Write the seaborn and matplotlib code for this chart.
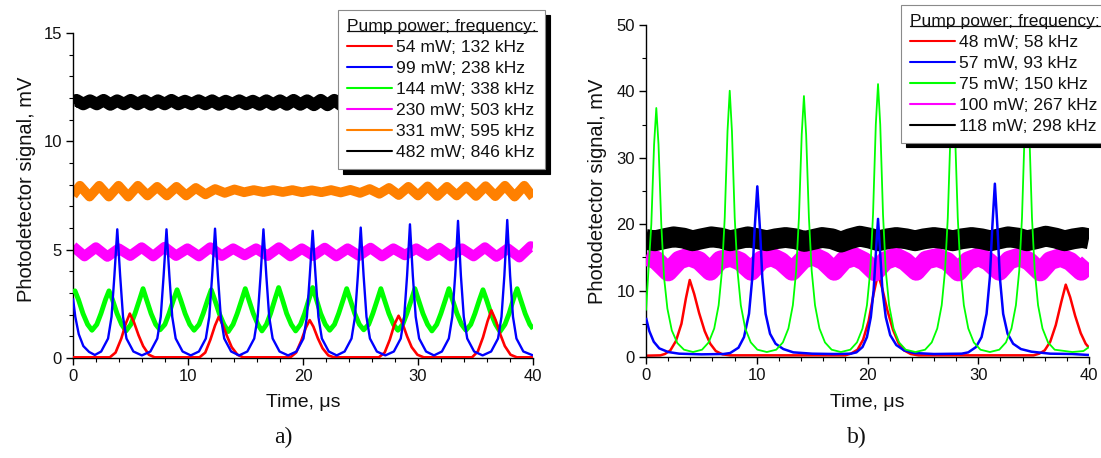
import matplotlib
matplotlib.use("Agg")
import matplotlib.pyplot as plt
import pandas as pd
import seaborn as sns
from matplotlib import font_manager as fm
from matplotlib.lines import Line2D
from matplotlib.ticker import MultipleLocator

# ---------------- data ----------------
# Panel a) : (time in us, signal in mV)
A_LABELS = ["54 mW; 132 kHz", "99 mW; 238 kHz", "144 mW; 338 kHz",
            "230 mW; 503 kHz", "331 mW; 595 kHz", "482 mW; 846 kHz"]
A_COLORS = ["#ff0000", "#0000ff", "#00ff00", "#ff00ff", "#ff8000", "#000000"]

A_RED = [(0, 0.03), (3.2, 0.03), (3.7, 0.25), (4.2, 0.9), (4.6, 1.6), (4.94, 2.05), (5.3, 1.65),
         (5.7, 1.05), (6.1, 0.55), (6.6, 0.15), (7.1, 0.03),
         (11.0, 0.03), (11.5, 0.25), (11.95, 0.85), (12.35, 1.5), (12.67, 1.9), (13.0, 1.55),
         (13.4, 1.0), (13.8, 0.5), (14.3, 0.15), (14.8, 0.03),
         (18.9, 0.03), (19.4, 0.25), (19.85, 0.8), (20.25, 1.4), (20.58, 1.75), (20.9, 1.45),
         (21.3, 0.9), (21.7, 0.45), (22.2, 0.12), (22.7, 0.03),
         (26.6, 0.03), (27.1, 0.25), (27.55, 0.85), (27.95, 1.55), (28.31, 1.95), (28.65, 1.6),
         (29.05, 1.0), (29.45, 0.5), (29.95, 0.15), (30.5, 0.03),
         (34.7, 0.03), (35.2, 0.3), (35.65, 0.95), (36.05, 1.7), (36.38, 2.2), (36.75, 1.75),
         (37.15, 1.1), (37.55, 0.55), (38.05, 0.15), (38.6, 0.03), (40.0, 0.03)]

A_BLUE = [(0, 2.75), (0.2, 1.9), (0.5, 1.1), (0.9, 0.55), (1.4, 0.28), (1.9, 0.14),
          (2.45, 0.3), (3.05, 0.9), (3.35, 1.9), (3.6, 3.8), (3.85, 5.94), (4.1, 3.8), (4.35, 1.9), (4.65, 0.9), (5.25, 0.3), (5.99, 0.12),
          (6.73, 0.3), (7.33, 0.9), (7.63, 1.9), (7.88, 3.8), (8.13, 5.94), (8.38, 3.8), (8.63, 1.9), (8.93, 0.9), (9.53, 0.3), (10.24, 0.12),
          (10.95, 0.3), (11.55, 0.9), (11.85, 1.9), (12.1, 3.8), (12.35, 5.97), (12.6, 3.8), (12.85, 1.9), (13.15, 0.9), (13.75, 0.3), (14.45, 0.12),
          (15.16, 0.3), (15.76, 0.9), (16.06, 1.9), (16.31, 3.8), (16.56, 5.94), (16.81, 3.8), (17.06, 1.9), (17.36, 0.9), (17.96, 0.3), (18.7, 0.12),
          (19.44, 0.3), (20.04, 0.9), (20.34, 1.9), (20.59, 3.8), (20.84, 5.87), (21.09, 3.8), (21.34, 1.9), (21.64, 0.9), (22.24, 0.3), (22.93, 0.12),
          (23.62, 0.3), (24.22, 0.9), (24.52, 1.9), (24.77, 3.8), (25.02, 6.02), (25.27, 3.8), (25.52, 1.9), (25.82, 0.9), (26.42, 0.3), (27.16, 0.12),
          (27.9, 0.3), (28.5, 0.9), (28.8, 1.9), (29.05, 3.8), (29.3, 6.17), (29.55, 3.8), (29.8, 1.9), (30.1, 0.9), (30.7, 0.3), (31.39, 0.12),
          (32.08, 0.3), (32.68, 0.9), (32.98, 1.9), (33.23, 3.8), (33.48, 6.33), (33.73, 3.8), (33.98, 1.9), (34.28, 0.9), (34.88, 0.3), (35.62, 0.12),
          (36.36, 0.3), (36.96, 0.9), (37.26, 1.9), (37.51, 3.8), (37.76, 6.37), (38.01, 3.8), (38.26, 1.9), (38.56, 0.9), (39.16, 0.3), (40.0, 0.12)]

A_GREEN = [(0, 3.05), (0.17, 3.1), (0.47, 2.7), (0.87, 2.05), (1.27, 1.55), (1.65, 1.28), (2.07, 1.55), (2.43, 2.05), (2.83, 2.7),
           (3.13, 3.1), (3.43, 2.7), (3.83, 2.05), (4.23, 1.55), (4.61, 1.25), (5.03, 1.55), (5.39, 2.05), (5.79, 2.7),
           (6.09, 3.2), (6.39, 2.7), (6.79, 2.05), (7.19, 1.55), (7.57, 1.3), (7.99, 1.55), (8.35, 2.05), (8.75, 2.7),
           (9.05, 3.15), (9.35, 2.7), (9.75, 2.05), (10.15, 1.55), (10.53, 1.28), (10.96, 1.55), (11.32, 2.05), (11.72, 2.7),
           (12.02, 3.15), (12.32, 2.7), (12.72, 2.05), (13.12, 1.55), (13.5, 1.22), (13.92, 1.55), (14.28, 2.05), (14.68, 2.7),
           (14.98, 3.2), (15.28, 2.7), (15.68, 2.05), (16.08, 1.55), (16.43, 1.25), (16.82, 1.55), (17.18, 2.05), (17.58, 2.75),
           (17.88, 3.25), (18.18, 2.75), (18.58, 2.05), (18.98, 1.55), (19.36, 1.25), (19.78, 1.55), (20.14, 2.05), (20.54, 2.75),
           (20.84, 3.25), (21.14, 2.75), (21.54, 2.05), (21.94, 1.55), (22.32, 1.28), (22.74, 1.55), (23.1, 2.05), (23.5, 2.7),
           (23.8, 3.2), (24.1, 2.7), (24.5, 2.05), (24.9, 1.55), (25.28, 1.3), (25.71, 1.55), (26.07, 2.05), (26.47, 2.7),
           (26.77, 3.2), (27.07, 2.7), (27.47, 2.05), (27.87, 1.55), (28.25, 1.28), (28.67, 1.55), (29.03, 2.05), (29.43, 2.7),
           (29.73, 3.2), (30.03, 2.7), (30.43, 2.05), (30.83, 1.55), (31.21, 1.25), (31.63, 1.55), (31.99, 2.05), (32.39, 2.7),
           (32.69, 3.2), (32.99, 2.7), (33.39, 2.05), (33.79, 1.55), (34.17, 1.28), (34.59, 1.55), (34.95, 2.05), (35.35, 2.7),
           (35.65, 3.15), (35.95, 2.7), (36.35, 2.05), (36.75, 1.55), (37.13, 1.22), (37.56, 1.55), (37.92, 2.05), (38.32, 2.75),
           (38.62, 3.2), (38.92, 2.7), (39.32, 2.05), (39.72, 1.55), (40.0, 1.35)]

A_MAGENTA = [(0.0, 5.15), (1.0, 4.7), (1.99, 5.1), (2.99, 4.68), (3.98, 5.05), (4.98, 4.72), (5.97, 5.1),
             (6.97, 4.7), (7.96, 5.12), (8.96, 4.72), (9.95, 5.05), (10.95, 4.7), (11.94, 5.1), (12.94, 4.72),
             (13.93, 5.05), (14.93, 4.75), (15.92, 5.05), (16.92, 4.72), (17.91, 5.1), (18.91, 4.7), (19.9, 5.05),
             (20.9, 4.72), (21.89, 5.08), (22.89, 4.7), (23.88, 5.05), (24.88, 4.72), (25.87, 5.08), (26.87, 4.7),
             (27.86, 5.05), (28.86, 4.75), (29.85, 5.05), (30.85, 4.72), (31.84, 5.08), (32.84, 4.7), (33.83, 5.05),
             (34.83, 4.7), (35.82, 5.1), (36.82, 4.68), (37.81, 5.05), (38.81, 4.65), (39.8, 5.15), (40.0, 5.12)]

A_ORANGE = [(0, 7.5), (0.6, 7.95), (1.44, 7.45), (2.28, 7.95), (3.12, 7.45), (3.96, 7.95), (4.8, 7.45),
            (5.64, 7.95), (6.48, 7.5), (7.32, 7.9), (8.16, 7.5), (9.0, 7.9), (9.84, 7.5), (10.68, 7.85),
            (11.52, 7.55), (12.36, 7.8), (13.2, 7.62), (14.04, 7.78), (14.88, 7.65), (15.72, 7.75), (16.56, 7.66),
            (17.4, 7.75), (18.24, 7.66), (19.08, 7.75), (19.92, 7.65), (20.76, 7.74), (21.6, 7.65), (22.44, 7.75),
            (23.28, 7.64), (24.12, 7.76), (24.96, 7.62), (25.8, 7.8), (26.64, 7.58), (27.48, 7.85), (28.32, 7.52),
            (29.16, 7.9), (30.0, 7.5), (30.84, 7.92), (31.68, 7.48), (32.52, 7.9), (33.36, 7.5), (34.2, 7.92),
            (35.04, 7.48), (35.88, 7.93), (36.72, 7.47), (37.56, 7.95), (38.4, 7.45), (39.24, 7.95), (40.0, 7.42)]

A_BLACK = [(0, 11.78), (0.3, 11.9), (0.89, 11.72), (1.48, 11.88), (2.07, 11.72), (2.66, 11.9), (3.25, 11.7),
           (3.84, 11.88), (4.43, 11.72), (5.02, 11.9), (5.61, 11.72), (6.2, 11.88), (6.79, 11.7), (7.38, 11.88),
           (7.97, 11.72), (8.56, 11.9), (9.15, 11.72), (9.74, 11.86), (10.33, 11.72), (10.92, 11.88), (11.51, 11.72),
           (12.1, 11.88), (12.69, 11.7), (13.28, 11.86), (13.87, 11.72), (14.46, 11.88), (15.05, 11.72), (15.64, 11.86),
           (16.23, 11.7), (16.82, 11.88), (17.41, 11.7), (18.0, 11.88), (18.59, 11.7), (19.18, 11.9), (19.77, 11.7),
           (20.36, 11.88), (20.95, 11.68), (21.54, 11.9), (22.13, 11.68), (22.72, 11.9), (23.31, 11.68), (23.9, 11.9),
           (24.49, 11.7), (25.08, 11.88), (30.0, 11.8), (40.0, 11.8)]

# Panel b)
B_LABELS = ["48 mW; 58 kHz", "57 mW, 93 kHz", "75 mW; 150 kHz", "100 mW; 267 kHz", "118 mW; 298 kHz"]
B_COLORS = ["#ff0000", "#0000ff", "#00ff00", "#ff00ff", "#000000"]

B_RED = [(0, 0.2), (1.3, 0.25), (1.7, 0.45), (2.2, 1.0), (2.7, 2.4), (3.2, 5.0), (3.6, 8.8), (3.95, 11.6),
         (4.35, 9.5), (4.8, 6.6), (5.3, 3.9), (5.8, 2.0), (6.3, 0.9), (6.9, 0.4), (7.6, 0.25),
         (18.0, 0.25), (18.5, 0.5), (19.1, 1.1), (19.6, 2.6), (20.1, 5.4), (20.55, 9.5), (20.95, 12.5),
         (21.35, 10.2), (21.8, 7.0), (22.3, 4.1), (22.8, 2.1), (23.3, 1.0), (23.9, 0.45), (24.6, 0.25),
         (35.0, 0.25), (35.5, 0.5), (36.0, 1.0), (36.5, 2.3), (37.0, 4.8), (37.5, 8.3), (37.9, 10.9),
         (38.3, 9.0), (38.75, 6.2), (39.25, 3.6), (39.7, 2.0), (40.0, 1.4)]

B_BLUE = [(0, 5.9), (0.3, 3.9), (0.7, 2.3), (1.2, 1.3), (2.0, 0.75), (3.0, 0.5), (5.0, 0.4), (7.0, 0.45),
          (7.6, 0.6), (8.35, 1.4), (8.85, 3.0), (9.3, 6.5), (9.6, 12.0), (9.8, 19.0), (10.05, 25.7), (10.3, 19.0),
          (10.5, 12.0), (10.8, 6.5), (11.2, 3.5), (11.7, 2.0), (12.4, 1.2), (13.3, 0.7), (15.0, 0.5), (17.0, 0.45),
          (18.5, 0.5), (19.0, 0.7), (19.55, 1.5), (19.95, 3.0), (20.3, 6.0), (20.55, 10.0), (20.75, 15.5),
          (20.95, 20.8), (21.15, 15.5), (21.35, 10.0), (21.65, 6.0), (22.05, 3.3), (22.6, 1.8), (23.3, 1.0),
          (24.2, 0.6), (26.0, 0.45), (28.5, 0.5), (29.1, 0.7), (29.8, 1.5), (30.3, 3.0), (30.75, 6.5),
          (31.05, 12.0), (31.25, 19.0), (31.5, 26.1), (31.75, 19.0), (31.95, 12.0), (32.25, 6.5), (32.65, 3.5),
          (33.15, 2.0), (33.85, 1.2), (34.8, 0.8), (36.5, 0.5), (38.5, 0.45), (40.0, 0.3)]

B_GREEN = [(0, 7.0), (0.48, 20.0), (0.73, 32.0), (0.93, 37.5), (1.13, 32.0), (1.38, 20.0), (1.63, 12.0),
           (1.93, 7.3), (2.33, 4.0), (2.83, 2.1), (3.43, 1.1), (4.25, 0.75),
           (5.06, 1.1), (5.66, 2.2), (6.16, 4.3), (6.56, 7.8), (6.86, 13.0), (7.11, 21.0), (7.36, 34.0), (7.56, 40.1),
           (7.76, 34.0), (8.01, 21.0), (8.26, 13.0), (8.56, 7.8), (8.96, 4.3), (9.46, 2.2), (10.06, 1.1), (10.91, 0.75),
           (11.76, 1.1), (12.36, 2.2), (12.86, 4.3), (13.26, 7.8), (13.56, 13.0), (13.81, 21.0), (14.06, 33.5), (14.26, 39.3),
           (14.46, 33.5), (14.71, 21.0), (14.96, 13.0), (15.26, 7.8), (15.66, 4.3), (16.16, 2.2), (16.76, 1.1), (17.6, 0.75),
           (18.45, 1.1), (19.05, 2.2), (19.55, 4.3), (19.95, 7.8), (20.25, 13.0), (20.5, 21.5), (20.75, 35.0), (20.95, 41.1),
           (21.15, 35.0), (21.4, 21.5), (21.65, 13.0), (21.95, 7.8), (22.35, 4.3), (22.85, 2.2), (23.45, 1.1), (24.33, 0.75),
           (25.2, 1.1), (25.8, 2.2), (26.3, 4.3), (26.7, 7.8), (27.0, 13.0), (27.25, 21.0), (27.5, 34.0), (27.7, 40.0),
           (27.9, 34.0), (28.15, 21.0), (28.4, 13.0), (28.7, 7.8), (29.1, 4.3), (29.6, 2.2), (30.2, 1.1), (31.05, 0.75),
           (31.9, 1.1), (32.5, 2.2), (33.0, 4.3), (33.4, 7.8), (33.7, 13.0), (33.95, 21.0), (34.2, 34.5), (34.4, 40.5),
           (34.6, 34.5), (34.85, 21.0), (35.1, 13.0), (35.4, 7.8), (35.8, 4.3), (36.3, 2.2), (36.9, 1.1), (38.5, 0.75),
           (39.5, 0.9), (40.0, 1.5)]

B_MAGENTA = [(0, 15.2), (0.9, 14.6), (2.0, 12.8), (3.0, 14.6), (3.9, 15.1), (4.8, 14.5), (5.8, 12.9), (6.7, 14.6),
             (7.65, 15.0), (8.5, 14.4), (9.5, 12.9), (10.4, 14.6), (11.35, 15.1), (12.2, 14.4), (13.2, 12.9),
             (14.2, 14.7), (15.1, 15.2), (16.0, 14.5), (17.0, 12.9), (17.9, 14.6), (18.85, 15.1), (19.7, 14.4),
             (20.7, 12.8), (21.6, 14.5), (22.55, 15.1), (23.4, 14.4), (24.4, 12.9), (25.3, 14.6), (26.3, 15.0),
             (27.2, 14.4), (28.2, 12.8), (29.1, 14.5), (30.05, 15.1), (30.9, 14.4), (31.9, 12.9), (32.8, 14.6),
             (33.75, 15.1), (34.6, 14.4), (35.6, 12.8), (36.5, 14.5), (37.45, 15.0), (38.3, 14.4), (39.3, 12.9),
             (40.0, 14.2)]

B_BLACK = [(0, 17.7), (0.8, 17.5), (1.6, 17.8), (2.5, 18.1), (3.4, 17.9), (4.2, 17.5), (5.0, 17.8), (5.9, 18.1),
           (6.8, 17.9), (7.6, 17.5), (8.4, 17.8), (9.2, 18.1), (10.1, 17.8), (10.9, 17.5), (11.7, 17.8), (12.6, 18.0),
           (13.5, 17.8), (14.3, 17.4), (15.1, 17.7), (15.9, 18.0), (16.8, 17.8), (17.6, 17.3), (18.4, 17.8),
           (19.3, 18.2), (20.2, 17.9), (21.0, 17.5), (21.8, 17.8), (22.6, 18.0), (23.5, 17.8), (24.3, 17.5),
           (25.1, 17.8), (26.0, 18.0), (26.9, 17.8), (27.7, 17.5), (28.5, 17.8), (29.4, 18.0), (30.3, 17.8),
           (31.1, 17.5), (31.9, 17.8), (32.7, 18.1), (33.6, 17.9), (34.4, 17.5), (35.2, 17.8), (36.1, 18.2),
           (37.0, 17.9), (37.8, 17.5), (38.6, 17.8), (39.4, 18.0), (40.0, 17.8)]

# ---------------- drawing ----------------
sns.set_theme(style="ticks")
plt.rcParams["font.family"] = ["Liberation Sans", "DejaVu Sans"]
plt.rcParams["axes.unicode_minus"] = False

HFONT = ["Liberation Sans", "DejaVu Sans"]
TICK_FS, XLAB_FS, LEG_FS = 12.0, 14.0, 12.6
LEG_LS, LEG_BP, LEG_HL, LEG_HTP = 0.33, 0.5, 2.6, 0.2

W, H = 1101, 458
fig = plt.figure(figsize=(W / 100, H / 100), dpi=100)
fig.patch.set_facecolor("white")
axa = fig.add_axes([73 / W, (H - 358) / H, 460 / W, 325 / H])
axb = fig.add_axes([646 / W, (H - 357) / H, 443 / W, 332 / H])


def draw(ax, pts, color, lw, z):
    df = pd.DataFrame(pts, columns=["t", "v"])
    sns.lineplot(data=df, x="t", y="v", ax=ax, color=color, linewidth=lw,
                 estimator=None, sort=False, legend=False, zorder=z,
                 solid_joinstyle="round", solid_capstyle="butt")


# panel a
draw(axa, A_MAGENTA, A_COLORS[3], 7.5, 2)
draw(axa, A_ORANGE, A_COLORS[4], 7.0, 2)
draw(axa, A_BLACK, A_COLORS[5], 9.0, 2)
draw(axa, A_GREEN, A_COLORS[2], 3.5, 3)
draw(axa, A_RED, A_COLORS[0], 1.9, 4)
draw(axa, A_BLUE, A_COLORS[1], 1.7, 5)

# panel b
draw(axb, B_RED, B_COLORS[0], 1.8, 2)
draw(axb, B_MAGENTA, B_COLORS[3], 13.5, 3)
draw(axb, B_BLACK, B_COLORS[4], 15.0, 4)
draw(axb, B_BLUE, B_COLORS[1], 1.8, 5)
draw(axb, B_GREEN, B_COLORS[2], 1.3, 6)


def style(ax, ymax, ymaj, ymin):
    ax.set_xlim(0, 40)
    ax.set_ylim(0, ymax)
    ax.xaxis.set_major_locator(MultipleLocator(10))
    ax.xaxis.set_minor_locator(MultipleLocator(2))
    ax.yaxis.set_major_locator(MultipleLocator(ymaj))
    ax.yaxis.set_minor_locator(MultipleLocator(ymin))
    for s in ("top", "right"):
        ax.spines[s].set_visible(False)
    for s in ("left", "bottom"):
        ax.spines[s].set_color("black")
        ax.spines[s].set_linewidth(1.0)
    ax.tick_params(which="major", direction="out", length=5, width=1.0, color="black",
                   labelsize=TICK_FS, labelcolor="#111111", pad=3)
    ax.tick_params(which="minor", direction="out", length=3, width=0.8, color="black")
    ax.set_facecolor("white")
    ax.set_xlabel("Time, μs", fontsize=XLAB_FS, color="#111111")
    ax.set_ylabel("Photodetector signal, mV", fontsize=14.5, color="#111111")
    ax.xaxis.set_label_coords(0.5, -0.11)


style(axa, 15, 5, 1)
style(axb, 50, 10, 5)
axa.yaxis.set_label_coords(-0.08, 0.52)
axb.yaxis.set_label_coords(-0.088, 0.5)


def make_legend(ax, labels, colors, x, y):
    handles = [Line2D([], [], color=c, lw=1.5) for c in colors]
    leg = ax.legend(handles, labels, title="Pump power; frequency:", loc="upper left",
                    bbox_to_anchor=(x / W, 1 - y / H), bbox_transform=fig.transFigure,
                    frameon=True, fancybox=False,
                    shadow={"ox": 3.5, "oy": -3.5, "color": "black", "alpha": 1.0},
                    fontsize=LEG_FS, title_fontsize=LEG_FS,
                    handlelength=LEG_HL, handletextpad=LEG_HTP,
                    labelspacing=LEG_LS, borderpad=LEG_BP, borderaxespad=0, alignment="left")
    leg.get_frame().set_edgecolor("#8a8a8a")
    leg.get_frame().set_linewidth(0.8)
    leg.get_frame().set_facecolor("white")
    leg.get_frame().set_alpha(1.0)
    leg.set_zorder(20)
    for t in leg.get_texts():
        t.set_color("#111111")
    leg.get_title().set_color("#111111")
    return leg


lega = make_legend(axa, A_LABELS, A_COLORS, 338, 10)
legb = make_legend(axb, B_LABELS, B_COLORS, 901, 5)

fig.text(283 / W, 1 - 437 / H, "a)", ha="center", va="center", fontsize=17,
         family=["Liberation Serif", "DejaVu Serif"], color="#111111")
fig.text(857 / W, 1 - 437 / H, "b)", ha="center", va="center", fontsize=17,
         family=["Liberation Serif", "DejaVu Serif"], color="#111111")

# underline the legend titles
fig.canvas.draw()
renderer = fig.canvas.get_renderer()
for leg in (lega, legb):
    bb = leg.get_title().get_window_extent(renderer)
    yline = bb.y0 + 3
    ln = Line2D([bb.x0 / W, bb.x1 / W], [yline / H, yline / H], transform=fig.transFigure,
                color="#111111", lw=0.9, zorder=30)
    fig.add_artist(ln)

fig.savefig("out.png", dpi=100, facecolor="white")
